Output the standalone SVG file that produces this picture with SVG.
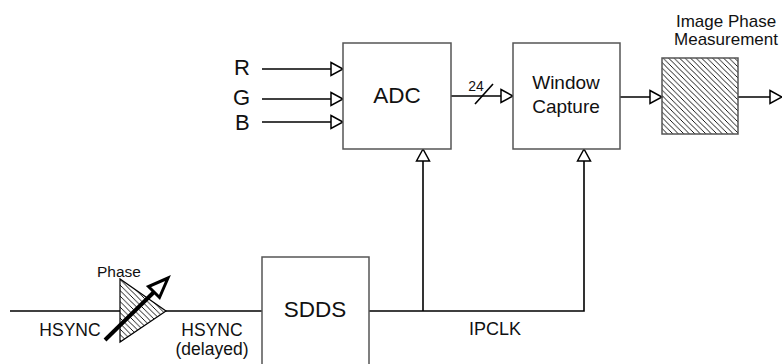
<svg xmlns="http://www.w3.org/2000/svg" width="782" height="364" viewBox="0 0 782 364">
<style>
.box{fill:#fff;stroke:#555;stroke-width:1.5}
.ln{fill:none;stroke:#000;stroke-width:1.6}
.t{font-family:"Liberation Sans",Arial,sans-serif;fill:#111}
</style>
<defs>
<marker id="arr" markerUnits="userSpaceOnUse" markerWidth="16" markerHeight="16" refX="13" refY="7" orient="auto" overflow="visible">
<path d="M1,0.5 L13,7 L1,13.5 Z" fill="#fff" stroke="#000" stroke-width="1.5"/>
</marker>
<pattern id="hatch" patternUnits="userSpaceOnUse" width="5.5" height="5.5">
<path d="M-1,-1 L6.5,6.5 M-1,4.5 L1,6.5 M4.5,-1 L6.5,1" stroke="#000" stroke-width="0.9"/>
</pattern>
</defs>

<g id="connectors">
<line class="ln" x1="262" y1="69" x2="343" y2="69" marker-end="url(#arr)"/>
<line class="ln" x1="262" y1="99" x2="343" y2="99" marker-end="url(#arr)"/>
<line class="ln" x1="262" y1="122" x2="343" y2="122" marker-end="url(#arr)"/>
<line class="ln" x1="451" y1="96" x2="513" y2="96" marker-end="url(#arr)"/>
<line class="ln" x1="475" y1="104" x2="493" y2="84"/>
<text class="t" x="476" y="91" font-size="14" text-anchor="middle">24</text>
<line class="ln" x1="620" y1="97" x2="662" y2="97" marker-end="url(#arr)"/>
<line class="ln" x1="738" y1="97" x2="782" y2="97" marker-end="url(#arr)"/>
<line class="ln" x1="10" y1="311" x2="262" y2="311"/>
<polyline class="ln" points="369,311 584,311 584,149" marker-end="url(#arr)"/>
<line class="ln" x1="423" y1="311" x2="423" y2="149" marker-end="url(#arr)"/>
<text class="t" x="495" y="335" font-size="18" text-anchor="middle">IPCLK</text>
<text class="t" x="70" y="336" font-size="17.5" text-anchor="middle">HSYNC</text>
<text class="t" x="212" y="336" font-size="17.5" text-anchor="middle">HSYNC</text>
<text class="t" x="212" y="355" font-size="17.5" text-anchor="middle">(delayed)</text>
</g>

<g id="rgb-labels">
<text class="t" x="234" y="75" font-size="22">R</text>
<text class="t" x="233" y="105" font-size="22">G</text>
<text class="t" x="235" y="130" font-size="22">B</text>
</g>

<g id="adc">
<rect class="box" x="343" y="43" width="108" height="106"/>
<text class="t" x="397" y="103" font-size="22.5" text-anchor="middle">ADC</text>
</g>

<g id="window-capture">
<rect class="box" x="513" y="43" width="107" height="106"/>
<text class="t" x="566" y="89" font-size="19" text-anchor="middle">Window</text>
<text class="t" x="566" y="113" font-size="19" text-anchor="middle">Capture</text>
</g>

<g id="image-phase-measurement">
<rect x="662" y="58" width="76" height="76" fill="url(#hatch)" stroke="#555" stroke-width="1.5"/>
<text class="t" x="726" y="27" font-size="17" text-anchor="middle">Image Phase</text>
<text class="t" x="726" y="45" font-size="17" text-anchor="middle">Measurement</text>
</g>

<g id="sdds">
<rect class="box" x="262" y="257" width="107" height="112"/>
<text class="t" x="315" y="317" font-size="22.5" text-anchor="middle">SDDS</text>
</g>

<g id="phase">
<polygon points="120,279 120,342 166,311" fill="#fff"/>
<polygon points="120,279 120,342 166,311" fill="url(#hatch)" stroke="#000" stroke-width="1.2"/>
<line x1="105" y1="340" x2="154" y2="292" stroke="#000" stroke-width="4"/>
<polygon points="168,278 159.5,297.5 148.5,286.5" fill="#fff" stroke="#000" stroke-width="3" stroke-linejoin="miter"/>
<text class="t" x="119" y="277" font-size="15.5" text-anchor="middle">Phase</text>
</g>
</svg>
